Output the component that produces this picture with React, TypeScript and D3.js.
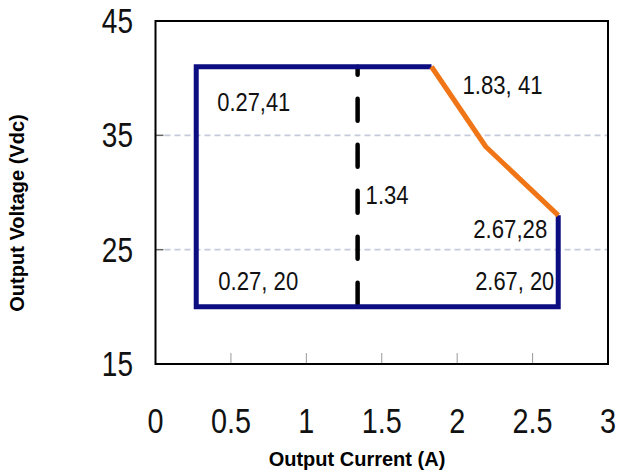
import React from "react";
import * as d3 from "d3";

const xTicks = [0, 0.5, 1, 1.5, 2, 2.5, 3];
const yTicks = [15, 25, 35, 45];
const gridValues = [25, 35];
const bluePath = [
  [1.83, 41],
  [0.27, 41],
  [0.27, 20],
  [2.67, 20],
  [2.67, 28],
];
const orangePath = [
  [1.83, 41],
  [2.19, 34],
  [2.67, 28],
];
const markerX = 1.34;
const markerRange = [20, 41];
const annotations = [
  { text: "0.27,41", x: 0.27, y: 41, dx: 21, dy: 44, anchor: "start", len: 73 },
  { text: "1.83, 41", x: 1.83, y: 41, dx: 31, dy: 27, anchor: "start", len: 80 },
  { text: "1.34", x: 1.34, y: 30.5, dx: 8, dy: 17, anchor: "start", len: 43 },
  { text: "2.67,28", x: 2.67, y: 28, dx: -11, dy: 23, anchor: "end", len: 74 },
  { text: "0.27, 20", x: 0.27, y: 20, dx: 22, dy: -17, anchor: "start", len: 80 },
  { text: "2.67, 20", x: 2.67, y: 20, dx: -4, dy: -17, anchor: "end", len: 79 },
];

const W = 617;
const H = 474;
const left = 155.5;
const right = 608;
const top = 21;
const bottom = 364;

export default function App() {
  const x = d3.scaleLinear().domain([0, 3]).range([left, right]);
  const y = d3.scaleLinear().domain([15, 45]).range([bottom, top]);
  const line = d3
    .line<number[]>()
    .x((d) => x(d[0]))
    .y((d) => y(d[1]));
  const numFont = "'Liberation Sans', Arial, sans-serif";
  return (
    <svg
      width={W}
      height={H}
      style={{ position: "absolute", left: 0, top: 0, background: "#fff" }}
    >
      {gridValues.map((v) => (
        <g key={v}>
          <line x1={x(0) + 9} x2={x(3) - 1} y1={y(v)} y2={y(v)} stroke="#c5cadc" strokeWidth={1.6} strokeDasharray="6 4" />
          <line x1={x(0)} x2={x(0) + 8} y1={y(v)} y2={y(v)} stroke="#666" strokeWidth={1.5} />
        </g>
      ))}
      {xTicks.slice(1, -1).map((t) => (
        <line key={t} x1={x(t)} x2={x(t)} y1={y(15)} y2={y(15) - 11} stroke="#999" strokeWidth={1} />
      ))}
      <rect x={x(0)} y={y(45)} width={x(3) - x(0)} height={y(15) - y(45)} fill="none" stroke="#000" strokeWidth={2} />
      <line
        x1={x(markerX)}
        x2={x(markerX)}
        y1={y(markerRange[0])}
        y2={y(markerRange[1])}
        stroke="#000"
        strokeWidth={4.5}
        strokeDasharray="22 24"
        strokeDashoffset={-2}
        strokeLinecap="round"
      />
      <path d={line(bluePath as any) || ""} fill="none" stroke="#0d0d82" strokeWidth={5} strokeLinejoin="miter" />
      <path d={line(orangePath as any) || ""} fill="none" stroke="#f07516" strokeWidth={5} strokeLinejoin="round" />
      {annotations.map((a) => (
        <text
          key={a.text}
          x={x(a.x) + a.dx}
          y={y(a.y) + a.dy}
          textAnchor={a.anchor as any}
          fontFamily={numFont}
          fontSize={26}
          fill="#111"
          textLength={a.len}
          lengthAdjust="spacingAndGlyphs"
        >
          {a.text}
        </text>
      ))}
      {xTicks.map((t) => (
        <text
          key={t}
          transform={`translate(${x(t)}, 433) scale(0.8, 1)`}
          textAnchor="middle"
          fontFamily={numFont}
          fontSize={36}
          fill="#111"
        >
          {t}
        </text>
      ))}
      {yTicks.map((t) => (
        <text
          key={t}
          transform={`translate(133, ${y(t) + 12}) scale(0.8, 1)`}
          textAnchor="end"
          fontFamily={numFont}
          fontSize={35}
          fill="#111"
        >
          {t}
        </text>
      ))}
      <text x={357} y={466} textAnchor="middle" fontFamily={numFont} fontWeight="bold" fontSize={20} fill="#000">
        Output Current (A)
      </text>
      <text
        transform={`translate(24, 213) rotate(-90)`}
        textAnchor="middle"
        fontFamily={numFont}
        fontWeight="bold"
        fontSize={20}
        fill="#000"
      >
        Output Voltage (Vdc)
      </text>
    </svg>
  );
}
